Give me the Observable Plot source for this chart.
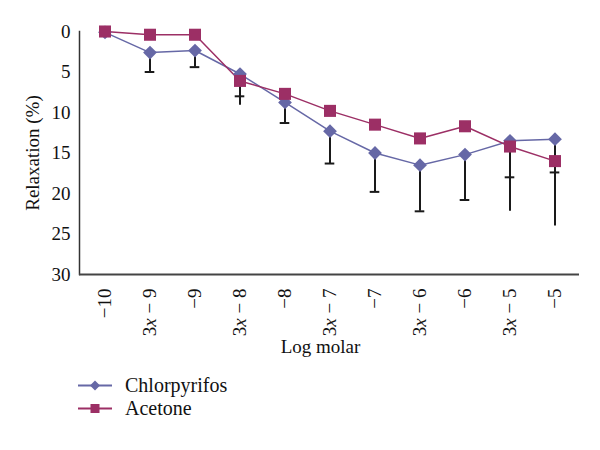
<!DOCTYPE html>
<html>
<head>
<meta charset="utf-8">
<script src="https://cdn.jsdelivr.net/npm/d3@7"></script>
<script src="https://cdn.jsdelivr.net/npm/@observablehq/plot@0.6"></script>
<style>
  html, body { margin: 0; padding: 0; background: #fff; }
  #legend { font-family: "Liberation Serif", serif; font-size: 20px; color: #111; margin-top: 4px; }
  .row { display: flex; align-items: center; height: 23px; }
  .row svg { margin-left: 78px; margin-right: 13px; }
</style>
</head>
<body>
<div id="chart"></div>
<div id="legend"></div>
<script>
const categories = ["−10", "3x − 9", "−9", "3x − 8", "−8", "3x − 7", "−7", "3x − 6", "−6", "3x − 5", "−5"];
const chlorpyrifos = [0.1, 2.6, 2.35, 5.25, 8.75, 12.3, 15.0, 16.5, 15.2, 13.5, 13.3];
const acetone = [0, 0.4, 0.4, 6.1, 7.7, 9.8, 11.5, 13.2, 11.7, 14.2, 16.0];
// error bar lower ends (capped bars, drawn from Chlorpyrifos means)
const chlorErrEnd = [null, 5.0, 4.4, 8.0, 11.3, 16.3, 19.8, 22.2, 20.8, 18.0, 17.4];
// error bar lower ends (uncapped bars, drawn from Acetone means)
const acetoneErrEnd = [null, null, null, 9.1, null, null, null, null, null, 22.2, 24.0];
const yTicks = [0, 5, 10, 15, 20, 25, 30];

const chlorColor = "#6668a6";
const acetColor = "#9c2f65";

const chlorRows = categories.map((c, i) => ({cat: c, v: chlorpyrifos[i], err: chlorErrEnd[i]}));
const acetRows = categories.map((c, i) => ({cat: c, v: acetone[i], err: acetoneErrEnd[i]}));
const chlorErr = chlorRows.filter(d => d.err != null);
const acetErr = acetRows.filter(d => d.err != null);

const plot = Plot.plot({
  width: 600,
  height: 370,
  marginLeft: 79,
  marginRight: 21,
  marginTop: 31,
  marginBottom: 96,
  style: {fontFamily: "Liberation Serif", fontSize: "19px", color: "#111", background: "#fff"},
  x: {type: "band", domain: categories, padding: 0, label: null},
  y: {domain: [0, 30], reverse: true, label: null},
  marks: [
    Plot.frame({anchor: "left", stroke: "#333", strokeWidth: 1.5}),
    Plot.ruleY([30], {stroke: "#444", strokeWidth: 2}),
    Plot.ruleX(acetErr, {x: "cat", y1: "v", y2: "err", stroke: "#1a1a1a", strokeWidth: 2}),
    Plot.ruleX(chlorErr, {x: "cat", y1: "v", y2: "err", stroke: "#1a1a1a", strokeWidth: 2}),
    Plot.tickY(chlorErr, {x: "cat", y: "err", insetLeft: 17.7, insetRight: 17.7, stroke: "#1a1a1a", strokeWidth: 2}),
    Plot.line(chlorRows, {x: "cat", y: "v", stroke: chlorColor, strokeWidth: 1.5}),
    Plot.line(acetRows, {x: "cat", y: "v", stroke: acetColor, strokeWidth: 1.5}),
    Plot.dot(chlorRows, {x: "cat", y: "v", symbol: "diamond2", r: 6.2, fill: chlorColor, stroke: "none"}),
    Plot.dot(acetRows, {x: "cat", y: "v", symbol: "square", r: 6.8, fill: acetColor, stroke: "none"}),
    Plot.axisY({ticks: yTicks, tickSize: 0, tickPadding: 9, label: null, fontSize: 19}),
    Plot.axisX({tickSize: 0, tickPadding: 14, tickRotate: -90, label: null, fontSize: 19}),
    Plot.text(["Relaxation (%)"], {frameAnchor: "left", textAnchor: "middle", rotate: -90, dx: -47, fontSize: 19}),
    Plot.text(["Log molar"], {frameAnchor: "bottom", textAnchor: "middle", dy: 78, dx: -9, fontSize: 19})
  ]
});
document.getElementById("chart").appendChild(plot);

// italic x in tick labels
plot.querySelectorAll('g[aria-label="x-axis tick label"] text').forEach(t => {
  const s = t.textContent;
  if (s.startsWith("3x")) {
    t.innerHTML = '3<tspan font-style="italic">x</tspan>' + s.slice(2);
  }
});

// legend
const legend = document.getElementById("legend");
[["Chlorpyrifos", chlorColor, "diamond"], ["Acetone", acetColor, "square"]].forEach(([name, color, shape]) => {
  const row = document.createElement("div");
  row.className = "row";
  const marker = shape === "diamond"
    ? `<path d="M17,4.5 L22,9.5 L17,14.5 L12,9.5 Z" fill="${color}"/>`
    : `<rect x="12.5" y="5" width="9" height="9" fill="${color}"/>`;
  row.innerHTML = `<svg width="34" height="19"><line x1="0" x2="34" y1="9.5" y2="9.5" stroke="${color}" stroke-width="2"/>${marker}</svg><span>${name}</span>`;
  legend.appendChild(row);
});
</script>
</body>
</html>
